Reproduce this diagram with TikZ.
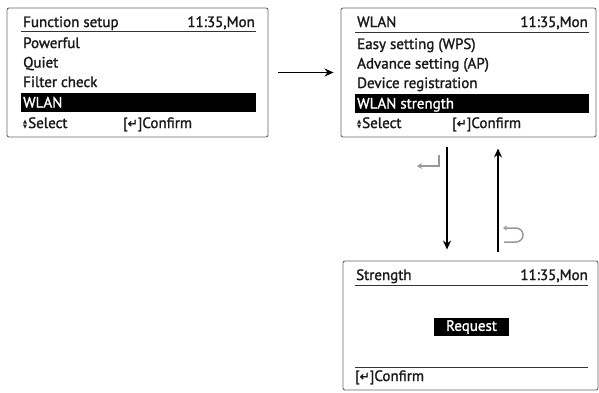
\documentclass[tikz,border=0pt]{standalone}
\usepackage{fontspec}
\setmainfont{PT Sans}[FakeBold=1.5]
\newfontfamily\symfont{DejaVu Sans}[FakeBold=2]
\usetikzlibrary{calc, positioning}
\usetikzlibrary{arrows.meta}

\tikzset{
  screen/.style={draw=black!60, line width=0.9pt, rounded corners=2pt, fill=white, inner sep=0pt},
  row/.style={anchor=base west, inner sep=0pt, text=black!90, font=\fontsize{15}{17}\selectfont},
  clock/.style={row, anchor=base east},
  rule/.style={black!80, line width=1pt},
  flow/.style={line width=1.8pt, -{Stealth[length=9pt,width=8pt]}},
  keyicon/.style={black!40, line width=1.5pt}
}
\newcommand{\enterkey}{[{\symfont\fontsize{12}{14}\selectfont\raisebox{0.5pt}{↵}}]}

\begin{document}
\begin{tikzpicture}[x=1pt,y=-1pt]
\useasboundingbox (0,0) rectangle (599,392);
\def\tmark{11:35,Mon}

% three screens
\node[screen, minimum width=261pt, minimum height=129pt] (fs) at (137.5,72.5) {};
\node[screen, minimum width=255pt, minimum height=129pt] (wl) at (468.5,72.5) {};
\node[screen, minimum width=255pt, minimum height=129pt] (st) at (470.5,325.5) {};

% Function setup
\draw[rule] (21,31.5) -- (256,31.5);
\fill[black] (21,93) rectangle (256,112);
\node[row] (fstitle) at (23,27) {Function setup};
\node[clock] (fstime) at (255,27) {\tmark};
\foreach \name/\yy in {Powerful/48, Quiet/67.5, Filter check/87}{
  \node[row] at (23,\yy) {\name};
}
\node[row, text=white] (fssel) at (23,107.5) {WLAN};
\fill[black!85] (23,123.5) -- (27,123.5) -- (25,119.5) -- cycle;
\fill[black!85] (23,124.5) -- (27,124.5) -- (25,128.5) -- cycle;
\node[row] (fsselect) at (28,128) {Select};
\node[row] (fsok) at (123,128) {\enterkey Confirm};

% WLAN
\draw[rule] (355,32) -- (589,32);
\fill[black] (355,94) rectangle (589,113);
\node[row] (wltitle) at (357,27) {WLAN};
\node[clock] (wltime) at (588,27) {\tmark};
\foreach \name/\yy in {Easy setting (WPS)/49, Advance setting (AP)/68.5, Device registration/88}{
  \node[row] at (357,\yy) {\name};
}
\node[row, text=white] (wlsel) at (357,108.5) {WLAN strength};
\fill[black!85] (357,123.5) -- (361,123.5) -- (359,119.5) -- cycle;
\fill[black!85] (357,124.5) -- (361,124.5) -- (359,128.5) -- cycle;
\node[row] (wlselect) at (362,128) {Select};
\node[row] (wlok) at (452,128) {\enterkey Confirm};

% Strength
\draw[rule] (355,285.5) -- (588,285.5);
\draw[rule] (355,367.5) -- (588,367.5);
\node[row] (sttitle) at (356,280) {Strength};
\node[clock] (sttime) at (588,280) {\tmark};
\node[fill=black, text=white, inner sep=0pt, minimum width=75pt, minimum height=18pt,
  font=\fontsize{15}{17}\selectfont] (req) at (471.5,327) {Request};
\node[row] (stok) at (355,381) {\enterkey Confirm};

% flow between screens
\coordinate (dn) at (447,0);
\coordinate (up) at (498,0);
\draw[flow, shorten <=10pt, shorten >=7pt] (fs) -- (wl);
\draw[flow, shorten <=10pt, shorten >=11pt] (wl.south -| dn) -- (st.north -| dn);
\draw[flow, shorten <=9pt, shorten >=11pt] (st.north -| up) -- (wl.south -| up);

% key hints
\draw[keyicon, -{Stealth[length=5pt,width=6pt]}] (439,155) -- (439,166) -- (417,166);
\draw[keyicon, {Stealth[length=4pt,width=5pt]}-] (503,228) -- (516,228)
  arc[start angle=-90, end angle=90, radius=7] -- (504,242);
\end{tikzpicture}
\end{document}
